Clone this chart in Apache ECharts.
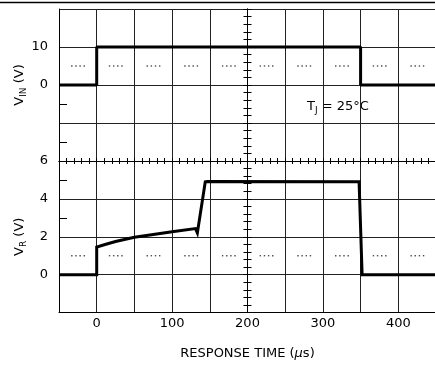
<!DOCTYPE html>
<html>
<head>
<meta charset="utf-8">
<script src="https://cdn.jsdelivr.net/npm/echarts@6/dist/echarts.min.js"></script>
<style>
html,body{margin:0;padding:0;background:#fff;}
#c{width:435px;height:365px;}
</style>
</head>
<body>
<div id="c"></div>
<script>
// ---- data ----
const timeUs = { min: -50, max: 450, step: 50 };
const xTickLabels = [0, 100, 200, 300, 400];
const vinTickLabels = [10, 0];
const vrTickLabels = [6, 4, 2, 0];
const vinHalfTicks = [-15, -5];
const vrHalfTicks = [3, 5];
const vinX = [-50, 0, 0, 350, 350, 450];
const vinY = [0, 0, 10, 10, 0, 0];
const vrX = [-50, 0, 0, 10, 25, 50, 75, 100, 131, 133.5, 135, 144, 147, 348, 352, 450];
const vrY = [0, 0, 1.45, 1.58, 1.75, 1.97, 2.12, 2.26, 2.43, 2.2, 2.15, 4.9, 4.92, 4.9, 0, 0];
const vinRefLevel = 5;
const vrRefLevel = 1;
const dotOffsets = [17, 22.5, 28, 33.5];

// ---- build ----
const zip = (xs, ys) => xs.map((x, i) => [x, ys[i]]);
function dots(level) {
  const out = [];
  for (let c = timeUs.min; c < timeUs.max; c += timeUs.step)
    dotOffsets.forEach(o => out.push([c + o, level]));
  return out;
}
const FONT = 'DejaVu Sans';
const gridLine = { show: true, lineStyle: { color: '#222', width: 1 } };
const axisBlack = { show: true, onZero: false, lineStyle: { color: '#000', width: 1 } };
const noLine = { show: false, onZero: false };
const hide = { show: false };
const G = { left: 59, width: 377 };
const centerOffset = -(G.width * (timeUs.max - 200) / (timeUs.max - timeUs.min));

function baseX(gridIndex, position, extra) {
  return Object.assign({
    type: 'value', gridIndex, position, min: timeUs.min, max: timeUs.max, interval: timeUs.step,
    axisLine: noLine, axisTick: hide, axisLabel: hide, splitLine: gridLine
  }, extra);
}
function tickX(gridIndex, position) {
  return {
    type: 'value', gridIndex, position, min: timeUs.min, max: timeUs.max, interval: 10,
    axisLine: axisBlack, axisTick: { show: true, inside: true, length: 3, lineStyle: { color: '#000' } },
    axisLabel: hide, splitLine: hide
  };
}
function centerY(gridIndex, min, max, interval, inside) {
  return {
    type: 'value', gridIndex, position: 'right', offset: centerOffset,
    min, max, interval,
    axisLine: axisBlack, axisTick: { show: true, inside: inside, length: 4, lineStyle: { color: '#000' } },
    axisLabel: hide, splitLine: hide
  };
}
function halfTickY(gridIndex, min, max, interval, values) {
  return {
    type: 'value', gridIndex, position: 'right', offset: -G.width,
    min, max, interval,
    axisLine: noLine,
    axisTick: { show: true, inside: false, length: 8, customValues: values, lineStyle: { color: '#000' } },
    axisLabel: hide, splitLine: hide
  };
}
const labelStyle = { color: '#000', fontFamily: FONT, fontSize: 13 };
const nameRich = {
  a: { fontFamily: FONT, fontSize: 13, color: '#000', lineHeight: 16, verticalAlign: 'middle' },
  b: { fontFamily: FONT, fontSize: 9, color: '#000', lineHeight: 9, verticalAlign: 'bottom' }
};

const option = {
  animation: false,
  backgroundColor: '#fff',
  grid: [
    { left: G.left, width: G.width, top: 9, height: 152, outerBoundsMode: 'none', containLabel: false },
    { left: G.left, width: G.width, top: 161, height: 151.5, outerBoundsMode: 'none', containLabel: false }
  ],
  xAxis: [
    baseX(0, 'top'),
    tickX(0, 'bottom'),
    tickX(1, 'top'),
    baseX(1, 'bottom', {
      axisLine: axisBlack,
      axisLabel: {
        show: true, margin: 5, ...labelStyle,
        formatter: v => xTickLabels.includes(v) ? String(v) : ''
      },
      name: '{a|RESPONSE TIME (}{i|µ}{a|s)}',
      nameLocation: 'middle', nameGap: 35,
      nameTextStyle: {
        rich: {
          a: { fontFamily: FONT, fontSize: 13, color: '#000' },
          i: { fontFamily: FONT, fontSize: 13, color: '#000', fontStyle: 'italic' }
        }
      }
    })
  ],
  yAxis: [
    {
      type: 'value', gridIndex: 0, position: 'left', min: -20, max: 20, interval: 10,
      axisLine: axisBlack, axisTick: hide,
      axisLabel: { show: true, margin: 11, ...labelStyle, formatter: v => vinTickLabels.includes(v) ? String(v) : '' },
      splitLine: gridLine,
      name: '{a|V}{b|IN}{a| (V)}', nameLocation: 'middle', nameGap: 31, nameMoveOverlap: false,
      nameTextStyle: { rich: nameRich }
    },
    halfTickY(0, -20, 20, 10, vinHalfTicks),
    centerY(0, -20, 20, 2, true),
    centerY(0, -20, 20, 2, false),
    {
      type: 'value', gridIndex: 1, position: 'left', min: -2, max: 6, interval: 2,
      axisLine: axisBlack, axisTick: hide,
      axisLabel: { show: true, margin: 11, ...labelStyle, formatter: v => vrTickLabels.includes(v) ? String(v) : '' },
      splitLine: gridLine,
      name: '{a|V}{b|R}{a| (V)}', nameLocation: 'middle', nameGap: 31, nameMoveOverlap: false,
      nameTextStyle: { rich: nameRich }
    },
    halfTickY(1, -2, 6, 2, vrHalfTicks),
    centerY(1, -2, 6, 0.4, true),
    centerY(1, -2, 6, 0.4, false)
  ],
  graphic: [
    { type: 'line', shape: { x1: 0, y1: 2.5, x2: 435, y2: 2.5 }, style: { stroke: '#000', lineWidth: 1.3 } },
    {
      type: 'text', x: 307, y: 99,
      style: {
        text: '{a|T}{b|J}{a| = 25°C}',
        rich: nameRich
      }
    }
  ],
  series: [
    { type: 'scatter', xAxisIndex: 0, yAxisIndex: 0, data: dots(vinRefLevel), symbol: 'rect', symbolSize: [1.4, 1.4], itemStyle: { color: '#222' }, silent: true },
    { type: 'scatter', xAxisIndex: 3, yAxisIndex: 4, data: dots(vrRefLevel), symbol: 'rect', symbolSize: [1.4, 1.4], itemStyle: { color: '#222' }, silent: true },
    { type: 'line', xAxisIndex: 0, yAxisIndex: 0, data: zip(vinX, vinY), symbol: 'none', lineStyle: { color: '#000', width: 3 }, z: 5 },
    { type: 'line', xAxisIndex: 3, yAxisIndex: 4, data: zip(vrX, vrY), symbol: 'none', lineStyle: { color: '#000', width: 3, join: 'miter' }, z: 5 }
  ]
};
const chart = echarts.init(document.getElementById('c'), null, { renderer: 'canvas' });
chart.setOption(option);
</script>
</body>
</html>
